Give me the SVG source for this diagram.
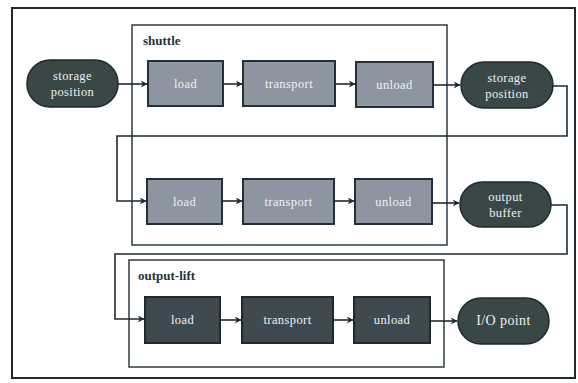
<svg xmlns="http://www.w3.org/2000/svg" width="578" height="383" viewBox="0 0 578 383">
<defs>
<marker id="arr" viewBox="0 0 10 10" refX="9" refY="5" markerWidth="7" markerHeight="7" orient="auto" markerUnits="userSpaceOnUse">
<path d="M0,0 L10,5 L0,10 L3,5 Z" fill="#1f2a30"/>
</marker>
<style>
.frame{fill:none;stroke:#1f2a30;stroke-width:2}
.group{fill:none;stroke:#2e3b42;stroke-width:1.5}
.shut{fill:#8d95a1;stroke:#22303a;stroke-width:2}
.lift{fill:#3e4a4f;stroke:#1f2a30;stroke-width:2}
.term{fill:#3a4747;stroke:#1f2a30;stroke-width:1.5}
.t{font-family:"Liberation Serif","DejaVu Serif",serif;font-size:12.5px;letter-spacing:0.4px;fill:#eef0f2;text-anchor:middle}
.tb{font-family:"Liberation Serif","DejaVu Serif",serif;font-size:13px;font-weight:bold;fill:#26323a}
.c{fill:none;stroke:#1f2a30;stroke-width:1.6;marker-end:url(#arr)}
</style>
</defs>
<rect x="0" y="0" width="578" height="383" fill="#ffffff"/>
<rect class="frame" x="12" y="8" width="563" height="370"/>
<g id="shuttle">
<rect class="group" x="132" y="25" width="315" height="220" stroke="#5c6b72"/>
<text class="tb" x="143" y="45">shuttle</text>
</g>
<g id="output-lift">
<rect class="group" x="129" y="260" width="315" height="107"/>
<text class="tb" x="138" y="280">output-lift</text>
</g>
<g id="storage1"><rect class="term" x="27" y="60" width="91" height="47" rx="23"/><text class="t" x="72.5" y="80">storage</text><text class="t" x="72.5" y="96">position</text></g>
<g id="s1load"><rect class="shut" x="148" y="61" width="75" height="45"/><text class="t" x="185.5" y="88">load</text></g>
<g id="s1transport"><rect class="shut" x="243" y="61" width="92" height="45"/><text class="t" x="289" y="88">transport</text></g>
<g id="s1unload"><rect class="shut" x="356" y="62" width="77" height="45"/><text class="t" x="394.5" y="89">unload</text></g>
<g id="storage2"><rect class="term" x="461" y="62" width="92" height="46" rx="23"/><text class="t" x="507" y="82">storage</text><text class="t" x="507" y="98">position</text></g>
<g id="s2load"><rect class="shut" x="147" y="179" width="75" height="45"/><text class="t" x="184.5" y="206">load</text></g>
<g id="s2transport"><rect class="shut" x="243" y="179" width="91" height="45"/><text class="t" x="288.5" y="206">transport</text></g>
<g id="s2unload"><rect class="shut" x="355" y="179" width="77" height="45"/><text class="t" x="393.5" y="206">unload</text></g>
<g id="buffer"><rect class="term" x="460" y="182" width="91" height="45" rx="22.5"/><text class="t" x="505.5" y="201">output</text><text class="t" x="505.5" y="217">buffer</text></g>
<g id="l1load"><rect class="lift" x="145" y="297" width="75" height="46"/><text class="t" x="182.5" y="324">load</text></g>
<g id="l1transport"><rect class="lift" x="242" y="297" width="91" height="46"/><text class="t" x="287.5" y="324">transport</text></g>
<g id="l1unload"><rect class="lift" x="354" y="297" width="76" height="46"/><text class="t" x="392" y="324">unload</text></g>
<g id="io"><rect class="term" x="458" y="298" width="91" height="46" rx="23"/><text class="t" x="503.5" y="325" style="font-size:14px">I/O point</text></g>
<g id="connectors">
<path class="c" d="M118,84 H147"/>
<path class="c" d="M223,84 H242"/>
<path class="c" d="M335,84 H355"/>
<path class="c" d="M433,85 H460"/>
<path class="c" d="M553,86 H567 V136 H117 V201 H146"/>
<path class="c" d="M222,201 H242"/>
<path class="c" d="M334,201 H354"/>
<path class="c" d="M432,203 H459"/>
<path class="c" d="M551,205 H567 V254 H115 V319 H144"/>
<path class="c" d="M220,320 H241"/>
<path class="c" d="M333,320 H353"/>
<path class="c" d="M430,321 H457"/>
</g>
</svg>
